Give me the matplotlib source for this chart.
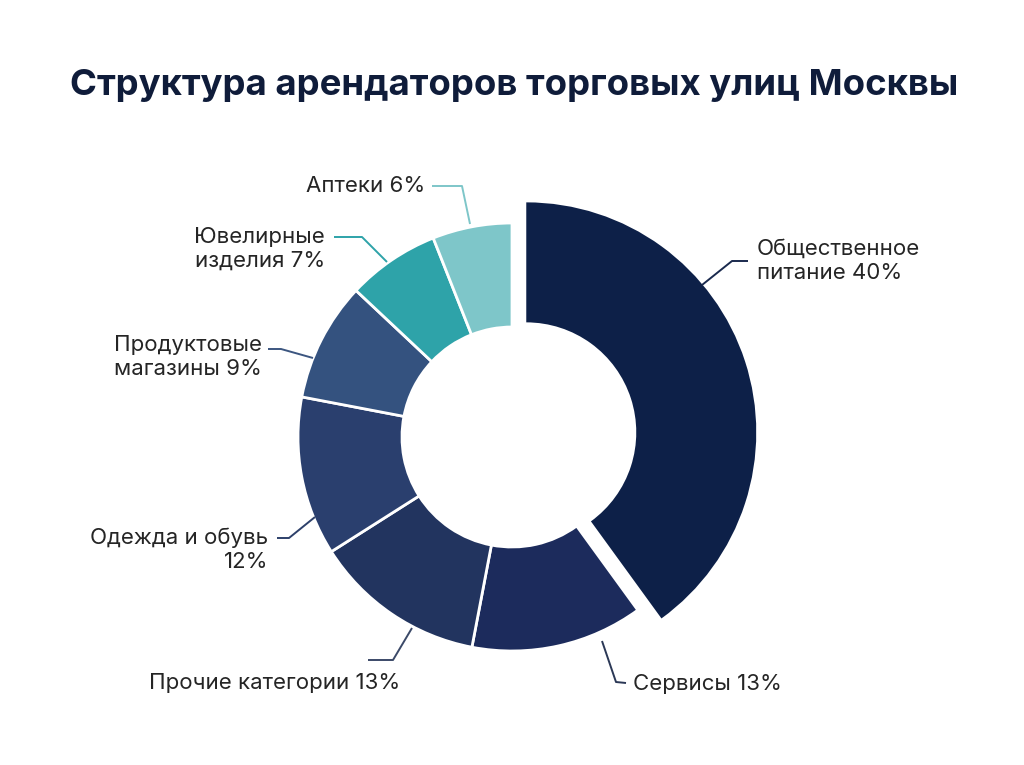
import matplotlib
matplotlib.use("Agg")
import matplotlib.pyplot as plt
import numpy as np

# ---- data ----
title = "Структура арендаторов торговых улиц Москвы"
categories = ["Общественное питание", "Сервисы", "Прочие категории",
              "Одежда и обувь", "Продуктовые магазины", "Ювелирные изделия", "Аптеки"]
shares = [40, 13, 13, 12, 9, 7, 6]
label_templates = ["Общественное\nпитание {}%", "Сервисы {}%", "Прочие категории {}%",
                   "Одежда и обувь\n{}%", "Продуктовые\nмагазины {}%",
                   "Ювелирные\nизделия {}%", "Аптеки {}%"]
colors = ["#0d2048", "#1c2b5c", "#22345f", "#2a3f6e", "#34527f", "#2ea3a9", "#7ec6c9"]
line_colors = ["#1a2a4e", "#2b3856", "#3b4968", "#2d406a", "#3c5680", "#2ea3a9", "#7ec6c9"]

# ---- layout (pixel coordinates, y measured from top) ----
W, H = 1024, 765
FONT = ["Inter", "DejaVu Sans"]

def Y(y):
    return H - y

label_pos = [(757, 261, "left"), (633, 684, "left"), (400, 683, "right"),
             (268, 550, "right"), (262, 357, "right"), (325, 249, "right"), (425, 186, "right")]
leaders = [
    [(748, 261), (732, 261), (702, 285)],
    [(626, 683), (616, 682), (602, 641)],
    [(368, 660), (393, 660), (412, 628)],
    [(277, 538), (289, 538), (315, 517)],
    [(268, 349), (281, 349), (313, 358)],
    [(334, 237), (362, 237), (387, 262)],
    [(432, 186), (462, 186), (470, 224)],
]

fig = plt.figure(figsize=(W / 100, H / 100), dpi=100, facecolor="white")
ax = fig.add_axes([0, 0, 1, 1])

cx, cy = 512, Y(437)
R, r_in = 214, 110
wedges, _ = ax.pie(shares, colors=colors, startangle=90, counterclock=False,
                   radius=R, center=(cx, cy),
                   wedgeprops=dict(width=R - r_in, edgecolor="white", linewidth=2))

# explode the first wedge and enlarge it
w0 = wedges[0]
tm = np.deg2rad((w0.theta1 + w0.theta2) / 2)
shift = 15
w0.set_center((cx + shift * np.cos(tm), cy + shift * np.sin(tm)))
R0 = 230
w0.set_radius(R0)
w0.set_width(R0 - r_in)
w0.set_linewidth(0)

ax.set_xlim(0, W)
ax.set_ylim(0, H)
ax.set_aspect("equal")
ax.axis("off")

for tmpl, val, (x, y, ha), pts, lc in zip(label_templates, shares, label_pos, leaders, line_colors):
    ax.text(x, Y(y), tmpl.format(val), ha=ha, va="center", multialignment=ha,
            fontsize=16, color="#252525", family=FONT, linespacing=1.22)
    xs = [p[0] for p in pts]
    ys = [Y(p[1]) for p in pts]
    ax.plot(xs, ys, color=lc, lw=1.4, solid_capstyle="butt")

t = ax.text(514, Y(85), title, ha="center", va="center", fontsize=26,
            fontweight="bold", color="#0f1c3a", family=FONT)
fig.canvas.draw()
bw = t.get_window_extent().width
t.set_fontsize(26 * 888 / bw)

fig.savefig("out.png", dpi=100, facecolor="white")
